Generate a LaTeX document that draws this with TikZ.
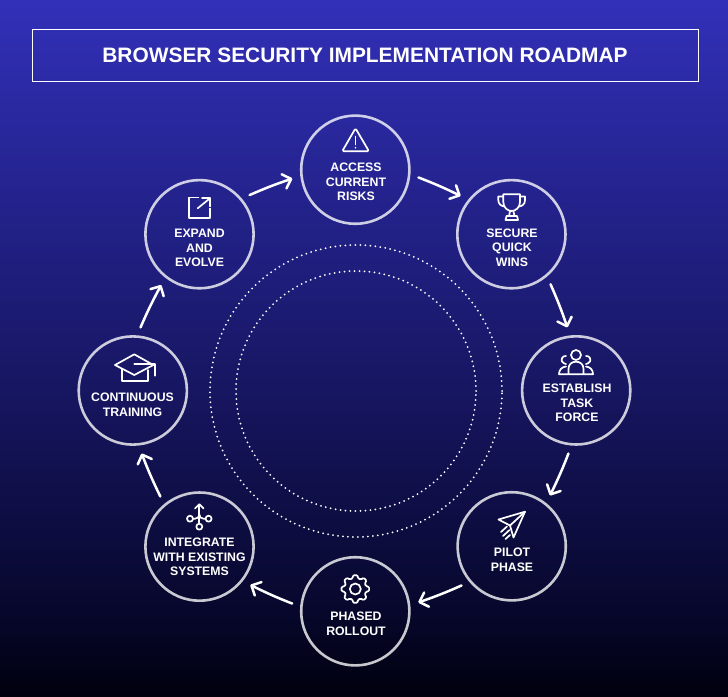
\documentclass[tikz,border=0pt]{standalone}
\usepackage{fontspec}
\setmainfont{Liberation Sans}
\usetikzlibrary{arrows.meta,bending}
\definecolor{bgA}{RGB}{50,48,184}
\definecolor{bgB}{RGB}{33,32,132}
\definecolor{bgC}{RGB}{19,18,84}
\definecolor{bgD}{RGB}{7,7,44}
\definecolor{bgE}{RGB}{0,0,14}
\pgfdeclareverticalshading{bgshade}{100bp}{
 color(0bp)=(bgE); color(25bp)=(bgE); color(31bp)=(bgD); color(43bp)=(bgC); color(58bp)=(bgB); color(75bp)=(bgA); color(100bp)=(bgA)}
\tikzset{
 stage/.style={circle,draw=white,draw opacity=.78,line width=2.6pt,minimum size=108.2pt,inner sep=0pt,outer sep=9.5pt},
 lab/.style={text=white,font=\fontsize{12.3}{14.7}\selectfont\bfseries,align=center,inner sep=0pt},
 flow/.style={draw=white,line width=2.5pt,line cap=round,-{Straight Barb[length=7.5pt,width=15pt,flex=0,round]}},
 ring/.style={circle,draw=white,line width=2pt,line cap=round,dash pattern=on 0pt off 5pt,inner sep=0pt},
 ico/.style={draw=white,line width=1.7pt,line join=round,line cap=round},
}
\begin{document}
\begin{tikzpicture}[x=1pt,y=-1pt]
\useasboundingbox (0,0) rectangle (728,696);
\fill[shading=bgshade] (0,0) rectangle (728,696);
% title
\node[draw=white,line width=1pt,minimum width=666pt,minimum height=52pt,inner sep=0pt,text=white,
 font=\fontsize{20.9}{24}\selectfont\bfseries] (title) at (365,55) {BROWSER SECURITY IMPLEMENTATION ROADMAP};
% rings
\node[ring,minimum size=292pt] (ringa) at (356,391) {};
\node[ring,minimum size=240pt] (ringb) at (356,391) {};
% stages
\node[stage] (n0) at (355.3,169.7) {};
\node[stage] (n1) at (511.4,234.2) {};
\node[stage] (n2) at (576.2,390.4) {};
\node[stage] (n3) at (511.7,546.3) {};
\node[stage] (n4) at (355.3,611.3) {};
\node[stage] (n5) at (199.5,546.6) {};
\node[stage] (n6) at (132.8,390.5) {};
\node[stage] (n7) at (199.5,234.2) {};
% labels
\node[lab] (l0) at (356,182) {ACCESS\\CURRENT\\RISKS};
\node[lab] (l1) at (512,247.5) {SECURE\\QUICK\\WINS};
\node[lab] (l2) at (577,403) {ESTABLISH\\TASK\\FORCE};
\node[lab] (l3) at (512,559.5) {PILOT\\PHASE};
\node[lab] (l4) at (356,624) {PHASED\\ROLLOUT};
\node[lab] (l5) at (199.5,557) {INTEGRATE\\WITH EXISTING\\SYSTEMS};
\node[lab] (l6) at (132.5,404.5) {CONTINUOUS\\TRAINING};
\node[lab] (l7) at (199.5,248) {EXPAND\\AND\\EVOLVE};
% connectors
\draw[flow] (n0.-7) to[bend left=2.5] (n1.143);
\draw[flow] (n1.-52) to[bend left=2.5] (n2.98);
\draw[flow] (n2.-97) to[bend left=2.5] (n3.53);
\draw[flow] (n3.-142) to[bend left=2.5] (n4.8);
\draw[flow] (n4.173) to[bend left=2.5] (n5.-37);
\draw[flow] (n5.128) to[bend left=2.5] (n6.-82);
\draw[flow] (n6.83) to[bend left=2.5] (n7.-127);
\draw[flow] (n7.38) to[bend left=2.5] (n0.188);
% icon: warning triangle
\draw[ico,rounded corners=1.5pt] (355.5,128.3) -- (369,151.3) -- (342.2,151.3) -- cycle;
\draw[ico] (355.5,136.5) -- (355.5,144.5);
\fill[white] (355.5,147.7) circle (0.9);
% icon: trophy
\draw[ico] (503.3,194.3) -- (520,194.3) -- (520,202) .. controls (520,208) and (515,211) .. (511.7,211) .. controls (508,211) and (503.3,208) .. (503.3,202) -- cycle;
\draw[ico] (503.3,196.5) -- (498.3,196.5) -- (498.3,200) .. controls (498.3,204) and (501,206) .. (504.5,206.5);
\draw[ico] (520,196.5) -- (525,196.5) -- (525,200) .. controls (525,204) and (522.5,206) .. (519,206.5);
\draw[ico] (510,211.5) -- (509,216) (513.5,211.5) -- (514.5,216);
\draw[ico] (505.5,220) -- (518,220) -- (517,216) -- (506.5,216) -- cycle;
% icon: group
\draw[ico] (576,355) circle (5);
\draw[ico] (568.5,374.3) -- (568.5,369) .. controls (568.5,364) and (572,361.7) .. (576,361.7) .. controls (580,361.7) and (583.5,364) .. (583.5,369) -- (583.5,374.3) -- cycle;
\draw[ico] (566,356) .. controls (562,355.5) and (561,360) .. (562,361.5) .. controls (563,363) and (565,364) .. (566,364);
\draw[ico] (586,356) .. controls (590,355.5) and (591,360) .. (590,361.5) .. controls (589,363) and (587,364) .. (586,364);
\draw[ico] (566,366.5) .. controls (561.5,367) and (559,370) .. (559,374.3) -- (568,374.3);
\draw[ico] (586,366.5) .. controls (590.5,367) and (593,370) .. (593,374.3) -- (584,374.3);
% icon: paper plane
\draw[ico] (525,511.7) -- (498.5,519.5) -- (510,525.5) -- (513.5,537.5) -- cycle;
\draw[ico] (525,511.7) -- (510,525.5);
\draw[ico] (507,526.5) -- (501,532);
\draw[ico] (509.5,530) -- (503,536);
\draw[ico] (510,535) -- (505.5,539);
% icon: gear
\draw[ico,rounded corners=1.1pt] (355.3,589) +(-14:11)
 \foreach \a in {0,45,...,315} { -- +(\a-14:11) -- +(\a-9:14) -- +(\a+9:14) -- +(\a+14:11) } -- cycle;
\draw[ico] (355.3,589) circle (5.5);
% icon: network
\draw[ico] (199.3,504.5) -- (199.3,523.5);
\draw[ico] (195,508.5) -- (199.3,504.2) -- (203.6,508.5);
\draw[ico] (199.3,526.7) circle (3);
\draw[ico] (190,518.7) circle (3);
\draw[ico] (208.6,518.7) circle (3);
\draw[ico] (193,518.7) -- (195,518.7) .. controls (197.5,518.7) and (199.3,517) .. (199.3,514.5);
\draw[ico] (205.6,518.7) -- (203.6,518.7) .. controls (201,518.7) and (199.3,517) .. (199.3,514.5);
% icon: graduation cap
\draw[ico] (115,365) -- (134.3,354.3) -- (153.3,365) -- (134.3,375) -- cycle;
\draw[ico] (121.7,369) -- (121.7,380.7) -- (148.3,380.7) -- (148.3,370);
\draw[ico] (134.3,364.3) -- (155,364.3) -- (155,375.7);
% icon: expand
\draw[ico,line cap=butt] (199.3,197.5) -- (189.3,197.5) -- (189.3,217.7) -- (210,217.7) -- (210,208.3);
\draw[ico] (197.7,208.3) -- (210,198.3);
\draw[ico] (202,198.3) -- (210,198.3) -- (210,206.5);
\end{tikzpicture}
\end{document}
